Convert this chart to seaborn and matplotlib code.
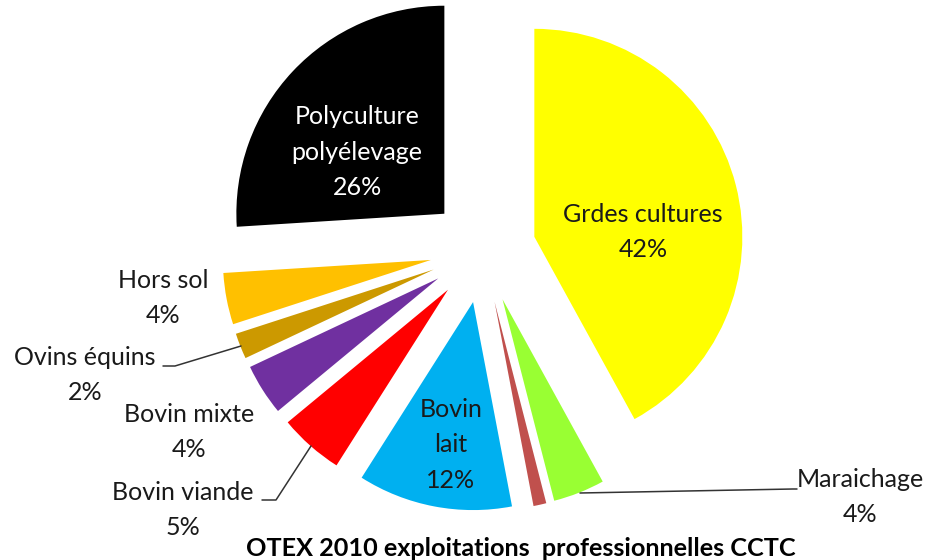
import matplotlib
matplotlib.use("Agg")
import matplotlib.pyplot as plt
import seaborn as sns

# ---- data ----
categories = ["Grdes cultures", "Maraichage", "", "Bovin\nlait", "Bovin viande",
              "Bovin mixte", "Ovins équins", "Hors sol", "Polyculture\npolyélevage"]
shares = [42, 4, 1, 12, 5, 4, 2, 4, 26]
colors = ["#FFFF00", "#99FF33", "#C0504D", "#00B0F0", "#FF0000",
          "#7030A0", "#CC9900", "#FFC000", "#000000"]
title = "OTEX 2010 exploitations  professionnelles CCTC"

# ---- layout (pixel positions, y measured from top) ----
W, H = 936, 560
label_pos = [(643, 232), (860, 497), None, (451, 445), (183, 510),
             (189, 432), (85, 375), (163, 298), (357, 152)]
label_color = ["#1a1a1a", "#1a1a1a", None, "#1a1a1a", "#1a1a1a",
               "#1a1a1a", "#1a1a1a", "#1a1a1a", "white"]
leaders = {
    1: [(580, 493), (793, 489), (797, 489)],
    4: [(262, 500), (276, 500), (311, 446)],
    6: [(163, 366), (175, 366), (241, 346)],
}

sns.set_theme(style="white")
plt.rcParams["font.family"] = ["Lato", "DejaVu Sans"]

fig = plt.figure(figsize=(W / 100, H / 100), dpi=100)
ax = fig.add_axes([0, 0, 1, 1])

def py(y):
    return H - y

ax.pie(shares, colors=colors, startangle=90, counterclock=False,
       radius=208, center=(483, py(250)), explode=[53] * len(shares),
       wedgeprops=dict(linewidth=0), frame=False)
ax.set_xlim(0, W)
ax.set_ylim(0, H)
ax.set_aspect("equal")
ax.axis("off")

for i, (lab, v) in enumerate(zip(categories, shares)):
    if label_pos[i] is None or not lab:
        continue
    x, y = label_pos[i]
    ax.text(x, py(y), f"{lab}\n{v}%", ha="center", va="center",
            fontsize=18, color=label_color[i], linespacing=1.65)

for i, pts in leaders.items():
    xs = [p[0] for p in pts]
    ys = [py(p[1]) for p in pts]
    ax.plot(xs, ys, color="#333333", lw=1.1)

ax.text(521, py(548), title, ha="center", va="center", fontsize=18.2,
        fontweight="bold", color="black")

fig.savefig("out.png", dpi=100)
